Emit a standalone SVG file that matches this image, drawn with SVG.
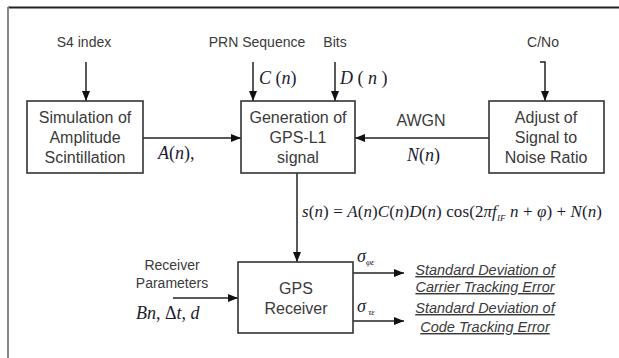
<svg xmlns="http://www.w3.org/2000/svg" width="619" height="358" viewBox="0 0 619 358">
<defs>
<marker id="ah" viewBox="0 0 10 8" refX="10" refY="4" markerWidth="11" markerHeight="8" markerUnits="userSpaceOnUse" orient="auto">
<path d="M0,0 L10,4 L0,8 Z" fill="#111"/>
</marker>
<style>
.box{fill:#fff;stroke:#333;stroke-width:1.6}
.bt{font-family:"Liberation Sans",Arial,sans-serif;font-size:16px;fill:#3a3a3a;text-anchor:middle}
.lb{font-family:"Liberation Sans",Arial,sans-serif;font-size:14px;fill:#3a3a3a;text-anchor:middle}
.m{font-family:"Liberation Serif","Times New Roman",serif;font-style:italic;font-size:18px;fill:#1c1c30}
.mf{font-family:"Liberation Serif","Times New Roman",serif;font-style:italic;font-size:17px;fill:#1c1c30}
.out{font-family:"Liberation Sans",Arial,sans-serif;font-style:italic;font-size:14.5px;fill:#3a3a3a;text-anchor:middle;text-decoration:underline}
.ln{fill:none;stroke:#222;stroke-width:1.5}
</style>
</defs>
<rect width="619" height="358" fill="#fff"/>
<g id="frame">
<line x1="8" y1="7.5" x2="619" y2="7.5" stroke="#222" stroke-width="2"/>
<line x1="8" y1="7" x2="8" y2="358" stroke="#888" stroke-width="2"/>
</g>
<g id="connectors">
<line class="ln" x1="86" y1="62" x2="86" y2="101" marker-end="url(#ah)"/>
<line class="ln" x1="253" y1="62" x2="253" y2="101" marker-end="url(#ah)"/>
<line class="ln" x1="335" y1="62" x2="335" y2="101" marker-end="url(#ah)"/>
<path class="ln" d="M540,62 H545 V101" marker-end="url(#ah)"/>
<line class="ln" x1="143" y1="138" x2="241" y2="138" marker-end="url(#ah)"/>
<line class="ln" x1="489" y1="138" x2="355" y2="138" marker-end="url(#ah)"/>
<line class="ln" x1="297" y1="173" x2="297" y2="262" marker-end="url(#ah)"/>
<line class="ln" x1="173" y1="298" x2="238" y2="298" marker-end="url(#ah)"/>
<line class="ln" x1="353" y1="273" x2="404" y2="273" marker-end="url(#ah)"/>
<line class="ln" x1="353" y1="321" x2="404" y2="321" marker-end="url(#ah)"/>
</g>
<g id="labels">
<text class="lb" x="84" y="47">S4 index</text>
<text class="lb" x="257" y="47">PRN Sequence</text>
<text class="lb" x="335" y="47">Bits</text>
<text class="lb" x="543" y="47">C/No</text>
<text class="m" x="259" y="84">C <tspan font-style="normal">(</tspan>n<tspan font-style="normal">)</tspan></text>
<text class="m" x="340" y="84">D <tspan font-style="normal">(</tspan> n <tspan font-style="normal">)</tspan></text>
<text class="m" x="158" y="159">A<tspan font-style="normal">(</tspan>n<tspan font-style="normal">),</tspan></text>
<text class="bt" x="421" y="126">AWGN</text>
<text class="m" x="407" y="161">N<tspan font-style="normal">(</tspan>n<tspan font-style="normal">)</tspan></text>
<text class="mf" x="302" y="217" textLength="300" lengthAdjust="spacing">s<tspan font-style="normal">(</tspan>n<tspan font-style="normal">) = </tspan>A<tspan font-style="normal">(</tspan>n<tspan font-style="normal">)</tspan>C<tspan font-style="normal">(</tspan>n<tspan font-style="normal">)</tspan>D<tspan font-style="normal">(</tspan>n<tspan font-style="normal">) cos(2</tspan>πf<tspan font-size="9" dy="4">IF</tspan><tspan dy="-4"> n</tspan><tspan font-style="normal"> + </tspan>φ<tspan font-style="normal">) + </tspan>N<tspan font-style="normal">(</tspan>n<tspan font-style="normal">)</tspan></text>
<text class="lb" x="172" y="270">Receiver</text>
<text class="lb" x="172" y="288">Parameters</text>
<text class="m" x="136" y="319">Bn<tspan font-style="normal">, Δ</tspan>t<tspan font-style="normal">, </tspan> d</text>
<text class="m" x="357" y="262">σ<tspan font-size="9" dy="3">φε</tspan></text>
<text class="m" x="357" y="312">σ<tspan font-size="9" dy="3"> τε</tspan></text>
<text class="out" x="485" y="275">Standard Deviation of</text>
<text class="out" x="485" y="292">Carrier Tracking Error</text>
<text class="out" x="485" y="313">Standard Deviation of</text>
<text class="out" x="485" y="332">Code Tracking Error</text>
</g>
<g id="sim">
<rect class="box" x="27" y="101" width="116" height="72"/>
<text class="bt" x="85" y="123">Simulation of</text>
<text class="bt" x="85" y="143">Amplitude</text>
<text class="bt" x="85" y="163">Scintillation</text>
</g>
<g id="gen">
<rect class="box" x="241" y="101" width="114" height="72"/>
<text class="bt" x="298" y="123">Generation of</text>
<text class="bt" x="298" y="143">GPS-L1</text>
<text class="bt" x="298" y="163">signal</text>
</g>
<g id="adj">
<rect class="box" x="489" y="101" width="115" height="72"/>
<text class="bt" x="546" y="123">Adjust of</text>
<text class="bt" x="546" y="143">Signal to</text>
<text class="bt" x="546" y="163">Noise Ratio</text>
</g>
<g id="rcv">
<rect class="box" x="238" y="262" width="115" height="71"/>
<text class="bt" x="296" y="294">GPS</text>
<text class="bt" x="296" y="314">Receiver</text>
</g>
</svg>
